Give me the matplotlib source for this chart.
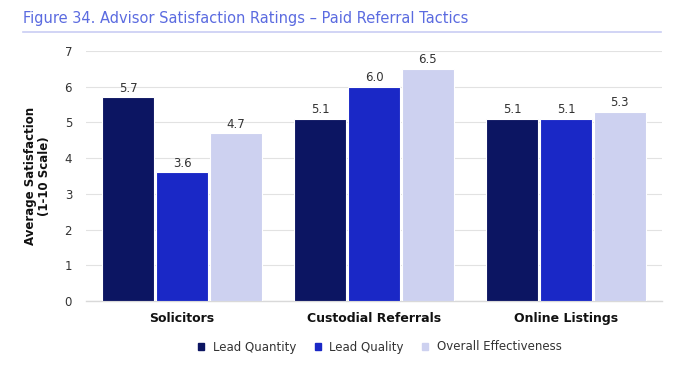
import matplotlib
matplotlib.use("Agg")
import matplotlib.pyplot as plt
import numpy as np
from matplotlib.lines import Line2D

categories = ["Solicitors", "Custodial Referrals", "Online Listings"]
series_names = ["Lead Quantity", "Lead Quality", "Overall Effectiveness"]
lead_quantity = [5.7, 5.1, 5.1]
lead_quality = [3.6, 6.0, 5.1]
overall_effectiveness = [4.7, 6.5, 5.3]
y_ticks = [0, 1, 2, 3, 4, 5, 6, 7]

colors = ["#0C1562", "#1A28C6", "#CDD1F0"]
title_color = "#5B6BE0"
font = "DejaVu Sans"

fig = plt.figure(figsize=(6.8, 3.7), dpi=100)
ax = fig.add_axes([86/680, 1-301/370, 576/680, 250/370])

x = np.arange(len(categories))
offsets = [-0.28, 0.0, 0.28]
width = 0.27
for vals, off, col, name in zip([lead_quantity, lead_quality, overall_effectiveness], offsets, colors, series_names):
    bars = ax.bar(x + off, vals, width, color=col, edgecolor="white", linewidth=0.8, zorder=3, label=name)
    for b, v in zip(bars, vals):
        ax.text(b.get_x() + b.get_width()/2, v + 0.07, f"{v:.1f}", ha="center", va="bottom",
                fontsize=8.5, color="#333333", family=font)

ax.set_xlim(-0.5, 2.5)
ax.set_ylim(0, 7)
ax.set_yticks(y_ticks)
ax.set_yticklabels([str(t) for t in y_ticks], fontsize=8.5, color="#333333", family=font)
ax.yaxis.grid(True, color="#E2E2E2", linewidth=0.8, zorder=0)
ax.set_axisbelow(True)
for s in ["top", "right", "left"]:
    ax.spines[s].set_visible(False)
ax.spines["bottom"].set_color("#D9D9D9")
ax.spines["bottom"].set_linewidth(1.0)
ax.tick_params(axis="both", length=0, pad=10)
ax.set_xticks(x)
ax.set_xticklabels(categories, fontsize=9, fontweight="bold", color="#111111", family=font)
ax.tick_params(axis="x", pad=8)
ax.set_ylabel("Average Satisfaction\n(1-10 Scale)", fontsize=8.5, fontweight="bold", color="#111111",
              family=font, labelpad=10, linespacing=1.1)

fig.text(23/680, 1-18/370, "Figure 34. Advisor Satisfaction Ratings – Paid Referral Tactics",
         fontsize=10.5, color=title_color, family=font, va="center", ha="left")
fig.add_artist(Line2D([23/680, 661/680], [1-32/370, 1-32/370], color="#C9CDF3", linewidth=1.2,
                      transform=fig.transFigure))

handles = [plt.Rectangle((0, 0), 1, 1, color=c) for c in colors]
leg = fig.legend(handles, series_names, loc="center", bbox_to_anchor=(380/680, 1-347/370), ncol=3,
                 frameon=False, handlelength=0.5, handleheight=0.5, handletextpad=0.7,
                 columnspacing=1.6, prop={"family": font, "size": 8.5})
for t in leg.get_texts():
    t.set_color("#333333")

fig.savefig("out.png", dpi=100, facecolor="white")
